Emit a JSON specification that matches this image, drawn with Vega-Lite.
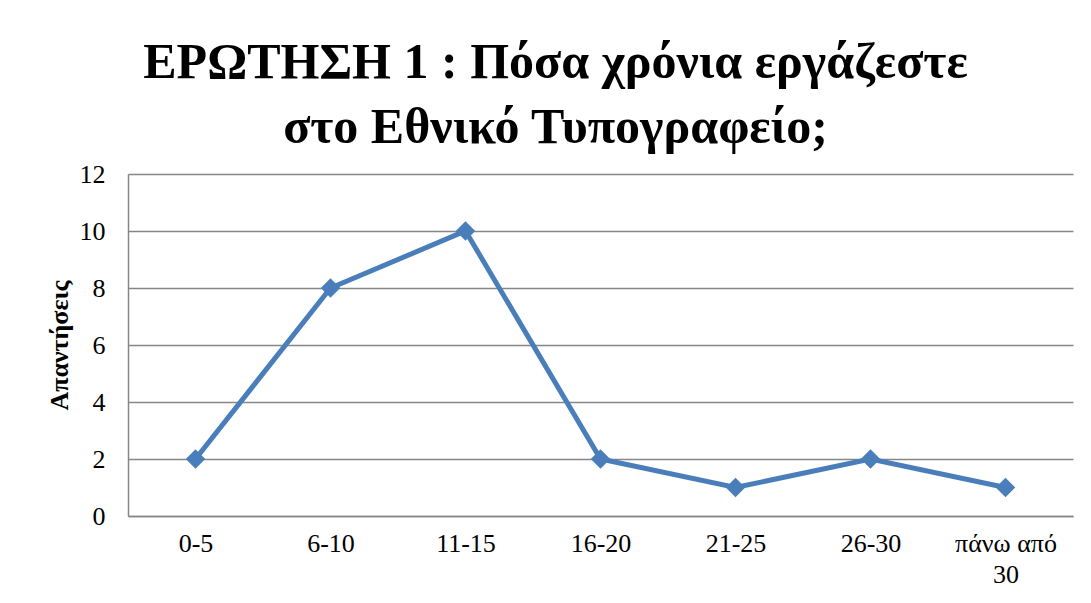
{
  "$schema": "https://vega.github.io/schema/vega-lite/v6.json",
  "autosize": {"type": "none"},
  "padding": {"left": 128, "top": 174, "right": 18, "bottom": 87},
  "width": 945,
  "height": 342,
  "background": "white",
  "title": {
    "text": ["ΕΡΩΤΗΣΗ 1 : Πόσα χρόνια εργάζεστε", "στο Εθνικό Τυπογραφείο;"],
    "font": "Liberation Serif",
    "fontSize": 50,
    "fontWeight": "bold",
    "color": "black",
    "lineHeight": 65,
    "anchor": "middle",
    "dx": -45,
    "offset": -32,
    "baseline": "alphabetic"
  },
  "data": {
    "values": [
      {"years": "0-5", "count": 2},
      {"years": "6-10", "count": 8},
      {"years": "11-15", "count": 10},
      {"years": "16-20", "count": 2},
      {"years": "21-25", "count": 1},
      {"years": "26-30", "count": 2},
      {"years": "πάνω από 30", "count": 1}
    ]
  },
  "encoding": {
    "x": {
      "field": "years",
      "type": "nominal",
      "sort": null,
      "scale": {"paddingInner": 0, "paddingOuter": 0},
      "axis": {
        "title": null,
        "labelAngle": 0,
        "labelFont": "Liberation Serif",
        "labelFontSize": 26,
        "labelColor": "black",
        "labelPadding": 14,
        "labelLineHeight": 31,
        "labelExpr": "datum.label == 'πάνω από 30' ? ['πάνω από', '30'] : datum.label",
        "ticks": false,
        "domainColor": "#868686",
        "domainWidth": 1.5,
        "grid": false
      }
    },
    "y": {
      "field": "count",
      "type": "quantitative",
      "scale": {"domain": [0, 12]},
      "axis": {
        "values": [0, 2, 4, 6, 8, 10, 12],
        "title": "Απαντήσεις",
        "titleFont": "Liberation Serif",
        "titleFontSize": 26,
        "titleFontWeight": "bold",
        "titleColor": "black",
        "titlePadding": 7,
        "labelFont": "Liberation Serif",
        "labelFontSize": 26,
        "labelColor": "black",
        "labelPadding": 23,
        "ticks": false,
        "domainColor": "#868686",
        "domainWidth": 1.5,
        "gridColor": "#868686",
        "gridWidth": 1.5
      }
    }
  },
  "layer": [
    {"mark": {"type": "line", "color": "#4A7EBB", "strokeWidth": 5}},
    {"mark": {"type": "point", "shape": "diamond", "filled": true, "size": 380, "color": "#4A7EBB", "opacity": 1}}
  ],
  "config": {
    "view": {"stroke": null}
  }
}
